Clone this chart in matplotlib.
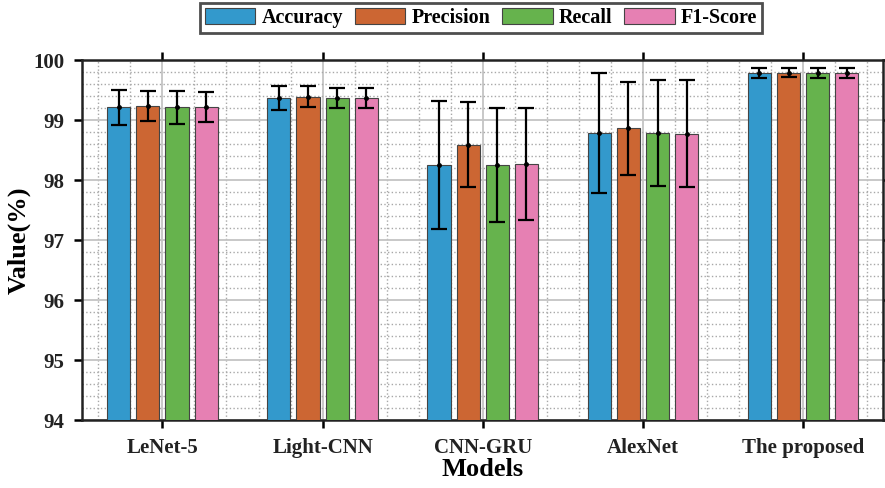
import numpy as np
import matplotlib
matplotlib.use('Agg')
import matplotlib.pyplot as plt
from matplotlib.ticker import MultipleLocator

plt.rcParams['font.family'] = ['Liberation Serif', 'DejaVu Serif']
plt.rcParams['font.weight'] = 'bold'

modelos = ['LeNet-5', 'Light-CNN', 'CNN-GRU', 'AlexNet', 'The proposed']
metricas = ['Accuracy', 'Precision', 'Recall', 'F1-Score']
colores = ['#3399CC', '#CC6633', '#66B34D', '#E680B3']

# valores medios (%)
accuracy = [99.21, 99.37, 98.25, 98.78, 99.78]
precision = [99.24, 99.39, 98.59, 98.86, 99.79]
recall = [99.21, 99.37, 98.25, 98.78, 99.78]
f1 = [99.21, 99.37, 98.27, 98.77, 99.78]

# desviacion (barras de error)
err_accuracy = [0.29, 0.20, 1.07, 1.00, 0.08]
err_precision = [0.25, 0.17, 0.71, 0.77, 0.08]
err_recall = [0.27, 0.17, 0.95, 0.88, 0.08]
err_f1 = [0.25, 0.17, 0.93, 0.89, 0.08]

valores = [accuracy, precision, recall, f1]
errores = [err_accuracy, err_precision, err_recall, err_f1]

fig = plt.figure(figsize=(8.85, 4.88), dpi=100)
ax = fig.add_axes([0.093, 0.139, 0.905, 0.738])

x = np.arange(1, len(modelos) + 1)
paso = 0.182
ancho = 0.145
for i in range(len(metricas)):
    pos = x + (i - 1.5) * paso
    ax.bar(pos, valores[i], ancho, color=colores[i], edgecolor='#444444',
           linewidth=0.8, label=metricas[i], zorder=3)
    ax.errorbar(pos, valores[i], yerr=errores[i], fmt='.', color='black',
                ecolor='black', elinewidth=1.6, capsize=6, capthick=1.6,
                markersize=5, zorder=4)

ax.set_xlim(0.5, 5.5)
ax.set_ylim(94, 100)
ax.set_xticks(x)
ax.set_xticklabels(modelos)
ax.xaxis.set_minor_locator(MultipleLocator(0.2))
ax.yaxis.set_minor_locator(MultipleLocator(0.2))
ax.set_yticks(np.arange(94, 101, 1))

ax.grid(which='major', color='#C4C4C4', linestyle='-', linewidth=1.3, zorder=0)
ax.grid(which='minor', color='#A8A8A8', linestyle=':', linewidth=1.0, zorder=0)
ax.set_axisbelow(True)

ax.tick_params(which='major', direction='out', length=6, width=1.8,
               labelsize=15, top=True, right=True, pad=7)
ax.tick_params(which='minor', length=0)
for lab in ax.get_xticklabels() + ax.get_yticklabels():
    lab.set_fontweight('bold')
    lab.set_color('#222222')
for s in ax.spines.values():
    s.set_linewidth(1.8)
    s.set_color('#222222')

ax.set_xlabel('Models', fontsize=19, fontweight='bold', labelpad=0)
ax.set_ylabel('Value(%)', fontsize=19, fontweight='bold', labelpad=2)

leg = ax.legend(loc='lower center', bbox_to_anchor=(0.498, 1.075), ncol=4,
                fontsize=14.5, frameon=True, fancybox=False, handlelength=2.5,
                handleheight=0.85, columnspacing=0.6, handletextpad=0.3,
                borderpad=0.25, borderaxespad=0)
leg.get_frame().set_edgecolor('#222222')
leg.get_frame().set_linewidth(2.0)
for t in leg.get_texts():
    t.set_fontweight('bold')

plt.savefig('out.png', dpi=100)
